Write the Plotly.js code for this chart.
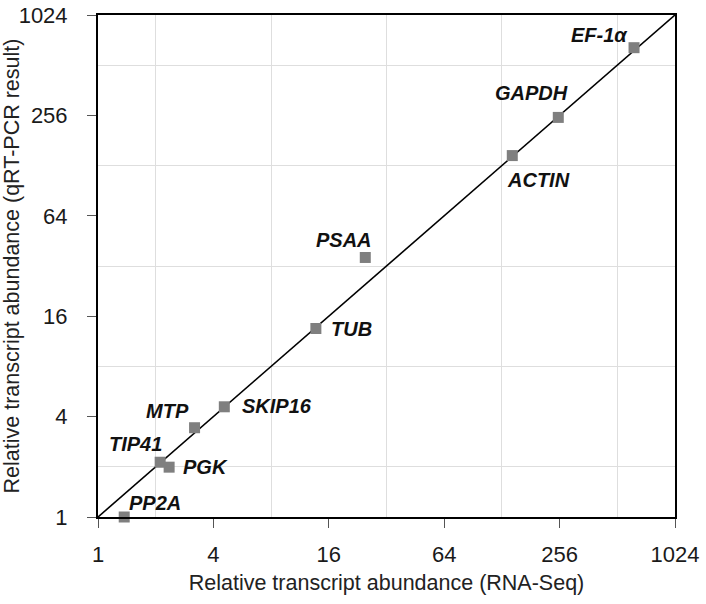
<!DOCTYPE html>
<html>
<head>
<meta charset="utf-8">
<script src="https://cdn.plot.ly/plotly-3.0.1.min.js"></script>
<style>html,body{margin:0;padding:0;background:#fff;}#chart{width:706px;height:604px;}</style>
</head>
<body>
<div id="chart"></div>
<script>
// Data
var genes = ["EF-1α", "GAPDH", "ACTIN", "PSAA", "TUB", "SKIP16", "MTP", "TIP41", "PGK", "PP2A"];
var rnaSeq = [626, 252, 145, 24.8, 13.7, 4.56, 3.19, 2.11, 2.35, 1.37];
var qrtPcr = [652, 249, 147, 36, 13.5, 4.58, 3.43, 2.13, 1.99, 1.0];
var tickVals = [1, 4, 16, 64, 256, 1024];
var tickText = ["1", "4", "16", "64", "256", "1024"];
var gridVals = [2, 8, 32, 128, 512];
var lineX = [1, 1024];
var lineY = [1, 1024];

// label placement offsets in pixels (dx right, dy down)
var labelOffsets = {
  "EF-1α": [-35, -13], "GAPDH": [-27, -24], "ACTIN": [26, 24], "PSAA": [-21, -17],
  "TUB": [36, 0], "SKIP16": [53, -1], "MTP": [-27, -17], "TIP41": [-25, -18],
  "PGK": [36, 0], "PP2A": [31, -14]
};

var annotations = genes.map(function (g, i) {
  var o = labelOffsets[g];
  return {
    x: Math.log10(rnaSeq[i]), y: Math.log10(qrtPcr[i]), xref: 'x', yref: 'y',
    text: g, showarrow: false, xanchor: 'center', yanchor: 'middle',
    xshift: o[0], yshift: -o[1],
    font: {family: 'Liberation Sans, Arial, sans-serif', size: 20, color: '#111', style: 'italic', weight: 'bold'}
  };
});

var axisCommon = {
  type: 'log',
  range: [0, Math.log10(1024)],
  tickmode: 'array', tickvals: tickVals, ticktext: tickText,
  showgrid: false, zeroline: false,
  showline: true, mirror: true, linecolor: '#000', linewidth: 2,
  ticks: 'outside', ticklen: 9, tickwidth: 1, tickcolor: '#555',
  tickfont: {family: 'Liberation Sans, Arial, sans-serif', size: 22, color: '#1a1a1a'},
  minor: {tickmode: 'array', tickvals: gridVals, showgrid: true, gridcolor: '#dedede', gridwidth: 1, ticks: ''},
  automargin: false
};

var xaxis = Object.assign({}, axisCommon, {
  ticklabelstandoff: 8,
  title: {text: 'Relative transcript abundance (RNA-Seq)', font: {family: 'Liberation Sans, Arial, sans-serif', size: 21.5, color: '#222'}, standoff: 9}
});
var yaxis = Object.assign({}, axisCommon, {
  ticklabelstandoff: 15,
  title: {text: 'Relative transcript abundance (qRT-PCR result)', font: {family: 'Liberation Sans, Arial, sans-serif', size: 21.5, color: '#222'}, standoff: 0}
});

var traces = [
  {x: lineX, y: lineY, mode: 'lines', line: {color: '#000', width: 1.6}, hoverinfo: 'skip', cliponaxis: false},
  {x: rnaSeq, y: qrtPcr, mode: 'markers', marker: {symbol: 'square', size: 11, color: '#7f7f7f'}, cliponaxis: false, text: genes}
];

var layout = {
  width: 706, height: 604,
  margin: {l: 98, r: 31, t: 15, b: 87},
  paper_bgcolor: '#fff', plot_bgcolor: '#fff',
  showlegend: false,
  xaxis: xaxis, yaxis: yaxis,
  annotations: annotations
};

Plotly.newPlot('chart', traces, layout, {displayModeBar: false, staticPlot: true});
</script>
</body>
</html>
